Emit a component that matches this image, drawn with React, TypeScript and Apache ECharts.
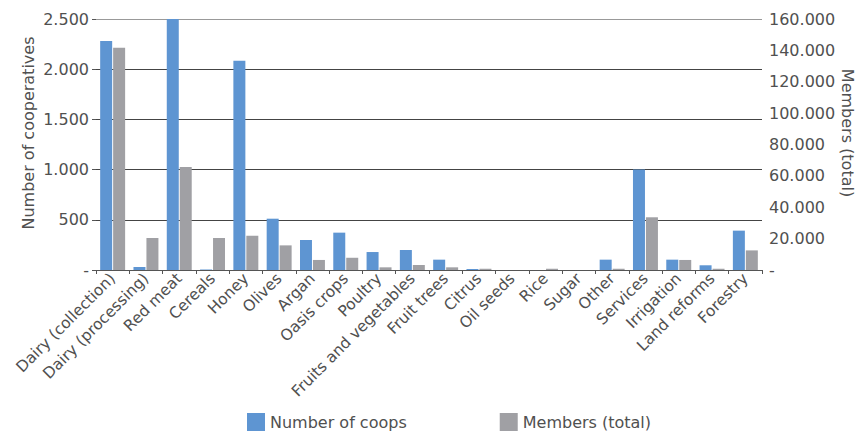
import React, { useEffect, useRef } from "react";
import * as echarts from "echarts";

const categories = [
  "Dairy (collection)", "Dairy (processing)", "Red meat", "Cereals", "Honey",
  "Olives", "Argan", "Oasis crops", "Poultry", "Fruits and vegetables",
  "Fruit trees", "Citrus", "Oil seeds", "Rice", "Sugar",
  "Other", "Services", "Irrigation", "Land reforms", "Forestry",
];
const coops = [2281, 30, 2500, 5, 2085, 511, 299, 372, 179, 199, 103, 10, 0, 0, 0, 103, 1000, 103, 47, 392];
const members = [141600, 20400, 65600, 20400, 21800, 15700, 6400, 7800, 1700, 3200, 1700, 800, 0, 800, 0, 800, 33600, 6400, 800, 12500];

const FONT = "DejaVu Sans";
const TXT = "#505050";
const fmt = (v: number) => (v === 0 ? "-" : Math.round(v).toString().replace(/\B(?=(\d{3})+(?!\d))/g, "."));

export default function App() {
  const ref = useRef<HTMLDivElement>(null);
  useEffect(() => {
    if (!ref.current) return;
    const chart = echarts.init(ref.current, undefined, { renderer: "svg" });
    chart.setOption({
      animation: false,
      textStyle: { fontFamily: FONT },
      grid: { left: 96, right: 100, top: 19, bottom: 164, containLabel: false },
      legend: {
        left: 242,
        top: 408,
        itemWidth: 18,
        itemHeight: 18,
        itemGap: 93,
        icon: "rect",
        textStyle: { fontFamily: FONT, fontSize: 16, color: TXT },
        data: ["Number of coops", "Members (total)"],
      },
      xAxis: {
        type: "category",
        data: categories,
        axisLine: { lineStyle: { color: "#555", width: 1 } },
        axisTick: { show: true, length: 4, lineStyle: { color: "#555" } },
        axisLabel: { rotate: 45, fontSize: 15.5, color: TXT, margin: 6, interval: 0, fontFamily: FONT },
      },
      yAxis: [
        {
          type: "value",
          min: 0,
          max: 2500,
          interval: 500,
          axisLine: { show: false },
          axisTick: { show: true, length: 4, lineStyle: { color: "#555" } },
          axisLabel: { fontSize: 16, color: TXT, margin: 7, formatter: fmt, fontFamily: FONT },
          splitLine: {
            show: true,
            showMinLine: false,
            lineStyle: { color: ["#444", "#444", "#444", "#444", "#999"], width: 1 },
          },
        },
        {
          type: "value",
          min: 0,
          max: 160000,
          interval: 20000,
          axisLine: { show: false },
          axisTick: { show: false },
          splitLine: { show: false },
          axisLabel: { fontSize: 16, color: TXT, margin: 7, formatter: fmt, fontFamily: FONT },
        },
      ],
      graphic: [
        {
          type: "text",
          x: 28,
          y: 133,
          rotation: Math.PI / 2,
          style: { text: "Number of cooperatives", font: `16px "${FONT}"`, fill: TXT, align: "center", verticalAlign: "middle" },
        },
        {
          type: "text",
          x: 847,
          y: 133,
          rotation: -Math.PI / 2,
          style: { text: "Members (total)", font: `16px "${FONT}"`, fill: TXT, align: "center", verticalAlign: "middle" },
        },
      ],
      series: [
        {
          name: "Number of coops",
          type: "bar",
          yAxisIndex: 0,
          data: coops,
          barWidth: 12,
          barGap: "8%",
          itemStyle: { color: "#5e95d2" },
        },
        {
          name: "Members (total)",
          type: "bar",
          yAxisIndex: 1,
          data: members,
          barWidth: 12,
          barGap: "8%",
          itemStyle: { color: "#a0a0a4" },
        },
      ],
    });
    return () => chart.dispose();
  }, []);
  return <div ref={ref} style={{ width: 862, height: 434, position: "absolute", left: 0, top: 0 }} />;
}
